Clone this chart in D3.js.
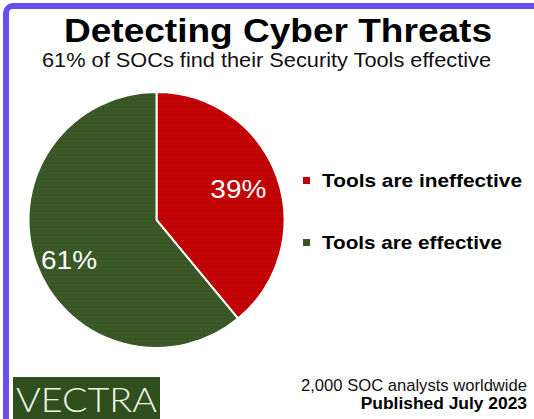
<!DOCTYPE html>
<html>
<head>
<meta charset="utf-8">
<script src="https://cdn.jsdelivr.net/npm/d3@7"></script>
<style>
  html, body { margin: 0; padding: 0; background: #ffffff; }
  svg { display: block; }
</style>
</head>
<body>
<svg id="chart" width="534" height="419"></svg>
<script>
// ---- data ----
const categories = ["Tools are ineffective", "Tools are effective"];
const values = [39, 61];
const valueLabels = ["39%", "61%"];
const colors = ["#c00000", "#375623"];
const title = "Detecting Cyber Threats";
const subtitle = "61% of SOCs find their Security Tools effective";
const footerLines = ["2,000 SOC analysts worldwide", "Published July 2023"];
const logoText = "VECTRA";

const FONT = "Arial, 'Liberation Sans', Helvetica, sans-serif";
const svg = d3.select("#chart").attr("font-family", FONT);

// dotted texture pattern
const defs = svg.append("defs");
const pat = defs.append("pattern")
  .attr("id", "dots").attr("patternUnits", "userSpaceOnUse")
  .attr("width", 4).attr("height", 4);
pat.append("circle").attr("cx", 1).attr("cy", 1).attr("r", 0.6)
  .attr("fill", "#ffffff").attr("fill-opacity", 0.18);

// frame (purple, top + left visible)
svg.append("rect")
  .attr("x", 6).attr("y", 6)
  .attr("width", 700).attr("height", 600)
  .attr("rx", 7)
  .attr("fill", "none")
  .attr("stroke", "#6a4cf3")
  .attr("stroke-width", 6);

// title
svg.append("text")
  .attr("x", 64).attr("y", 42)
  .attr("font-size", 33).attr("font-weight", "bold")
  .attr("fill", "#000")
  .attr("textLength", 428).attr("lengthAdjust", "spacingAndGlyphs")
  .text(title);

svg.append("text")
  .attr("x", 42).attr("y", 67)
  .attr("font-size", 20)
  .attr("fill", "#111")
  .attr("textLength", 449).attr("lengthAdjust", "spacingAndGlyphs")
  .text(subtitle);

// pie
const cx = 156.5, cy = 220, r = 128;
const pie = d3.pie().sort(null).value(d => d)(values);
const arc = d3.arc().innerRadius(0).outerRadius(r);
const g = svg.append("g").attr("transform", `translate(${cx},${cy})`);

g.selectAll("path.slice")
  .data(pie)
  .join("path")
  .attr("class", "slice")
  .attr("d", arc)
  .attr("fill", (d, i) => colors[i])
  .attr("stroke", "#ffffff")
  .attr("stroke-width", 2);
g.selectAll("path.tex")
  .data(pie)
  .join("path")
  .attr("class", "tex")
  .attr("d", arc)
  .attr("fill", "url(#dots)")
  .attr("stroke", "none");

// labels
const labelRadius = [87, 93];
const labelDy = [-2, 8];
g.selectAll("text.lbl")
  .data(pie)
  .join("text")
  .attr("class", "lbl")
  .attr("transform", (d, i) => {
    const c = d3.arc().innerRadius(labelRadius[i]).outerRadius(labelRadius[i]).centroid(d);
    return `translate(${c[0]},${c[1] + labelDy[i]})`;
  })
  .attr("text-anchor", "middle")
  .attr("dy", "0.36em")
  .attr("font-size", 26)
  .attr("fill", "#ffffff")
  .attr("textLength", 56).attr("lengthAdjust", "spacingAndGlyphs")
  .text((d, i) => valueLabels[i]);

// legend
const legendY = d3.scalePoint().domain(categories).range([187, 249]);
const lg = svg.append("g");
lg.selectAll("rect")
  .data(categories)
  .join("rect")
  .attr("x", 303).attr("y", d => legendY(d) - 10)
  .attr("width", 7).attr("height", 7)
  .attr("fill", (d, i) => colors[i]);
lg.selectAll("text")
  .data(categories)
  .join("text")
  .attr("x", 322).attr("y", d => legendY(d))
  .attr("font-size", 19).attr("font-weight", "bold")
  .attr("fill", "#000")
  .attr("textLength", (d, i) => i === 0 ? 200 : 180)
  .attr("lengthAdjust", "spacingAndGlyphs")
  .text(d => d);

// footer
svg.append("text")
  .attr("x", 527).attr("y", 391)
  .attr("text-anchor", "end")
  .attr("font-size", 16.6)
  .attr("fill", "#111")
  .text(footerLines[0]);
svg.append("text")
  .attr("x", 527).attr("y", 409)
  .attr("text-anchor", "end")
  .attr("font-size", 17.4).attr("font-weight", "bold")
  .attr("fill", "#000")
  .text(footerLines[1]);

// logo
svg.append("rect")
  .attr("x", 13).attr("y", 377)
  .attr("width", 147).attr("height", 50)
  .attr("fill", "#2f4f1f");
svg.append("text")
  .attr("x", 16).attr("y", 412)
  .attr("font-family", "Lato, 'Open Sans', sans-serif")
  .attr("font-weight", 300)
  .attr("font-size", 34)
  .attr("fill", "#eef7e4")
  .attr("textLength", 141).attr("lengthAdjust", "spacingAndGlyphs")
  .text(logoText);
</script>
</body>
</html>
